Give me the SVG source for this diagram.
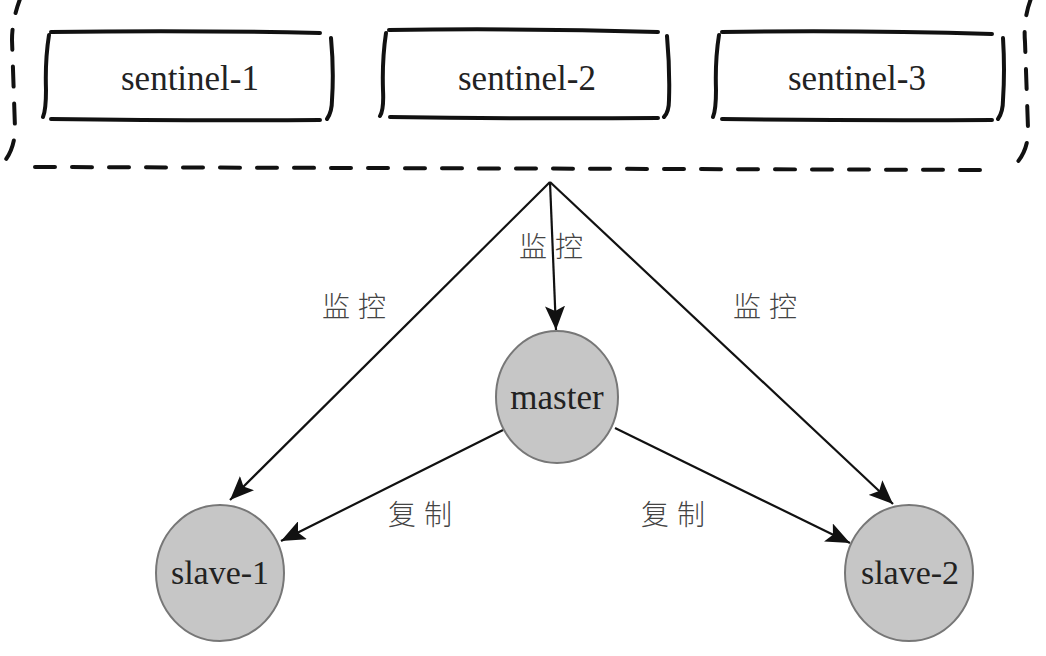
<svg xmlns="http://www.w3.org/2000/svg" width="1046" height="656" viewBox="0 0 1046 656">
<defs>
<style>
.dash{fill:none;stroke:#111;stroke-width:4;stroke-dasharray:20 17;stroke-linecap:round}
.box{fill:none;stroke:#111;stroke-width:4;stroke-linecap:round}
.lbl{font-family:"Liberation Serif","Noto Serif",serif;fill:#222;text-anchor:middle}
.cjk{font-family:"Noto Sans CJK SC",sans-serif;font-size:28px;fill:#444;letter-spacing:8px;font-weight:300}
.node{fill:#c6c6c6;stroke:#777;stroke-width:2}
.edge{fill:none;stroke:#111;stroke-width:2.2}
</style>
<marker id="ah" markerUnits="userSpaceOnUse" markerWidth="26" markerHeight="20" refX="24" refY="10" orient="auto">
<path d="M0,0 L24,10 L0,20 L5,10 Z" fill="#111"/>
</marker>
</defs>
<rect width="1046" height="656" fill="#fff"/>
<g id="sentinels-group">
<path class="dash" d="M60,-2 L1000,-2"/>
<path class="dash" d="M22,-6 Q12,18 12,40 L15,128 Q15,148 4,162"/>
<path class="dash" d="M35,167 L995,170"/>
<path class="dash" d="M1032,-4 Q1023,18 1025,42 L1028,128 Q1029,150 1015,165"/>
</g>
<g id="sentinel-1">
<path class="box" d="M51,32 Q190,30 320,33 M51,119 Q190,121 320,120 M49,35 Q45,60 46,90 Q46,110 43,117 M331,38 Q334,70 332,100 Q332,112 327,119"/>
<text class="lbl" x="190" y="90" font-size="35">sentinel-1</text>
</g>
<g id="sentinel-2">
<path class="box" d="M389,30 Q520,28 658,32 M390,117 Q520,119 658,118 M386,33 Q382,60 383,90 Q384,110 380,116 M667,36 Q670,70 669,100 Q669,112 664,117"/>
<text class="lbl" x="527" y="90" font-size="35">sentinel-2</text>
</g>
<g id="sentinel-3">
<path class="box" d="M722,32 Q860,30 992,34 M722,119 Q860,121 992,120 M719,35 Q715,60 716,90 Q716,110 713,117 M1003,38 Q1005,70 1003,100 Q1003,112 998,119"/>
<text class="lbl" x="857" y="90" font-size="35">sentinel-3</text>
</g>
<g id="connectors">
<path class="edge" d="M550,182 L556,330" marker-end="url(#ah)"/>
<path class="edge" d="M550,182 L230,500" marker-end="url(#ah)"/>
<path class="edge" d="M550,182 L893,504" marker-end="url(#ah)"/>
<path class="edge" d="M503,430 L281,541" marker-end="url(#ah)"/>
<path class="edge" d="M615,428 L850,543" marker-end="url(#ah)"/>
<text class="cjk" x="519" y="257">监控</text>
<text class="cjk" x="322" y="317">监控</text>
<text class="cjk" x="733" y="317">监控</text>
<text class="cjk" x="388" y="525">复制</text>
<text class="cjk" x="641" y="525">复制</text>
</g>
<g id="master">
<ellipse class="node" cx="557" cy="397" rx="61" ry="66"/>
<text class="lbl" x="557" y="409" font-size="35">master</text>
</g>
<g id="slave-1">
<ellipse class="node" cx="220" cy="573" rx="64" ry="68"/>
<text class="lbl" x="220" y="584" font-size="34">slave-1</text>
</g>
<g id="slave-2">
<ellipse class="node" cx="909" cy="573" rx="64" ry="68"/>
<text class="lbl" x="910" y="584" font-size="34">slave-2</text>
</g>
</svg>
